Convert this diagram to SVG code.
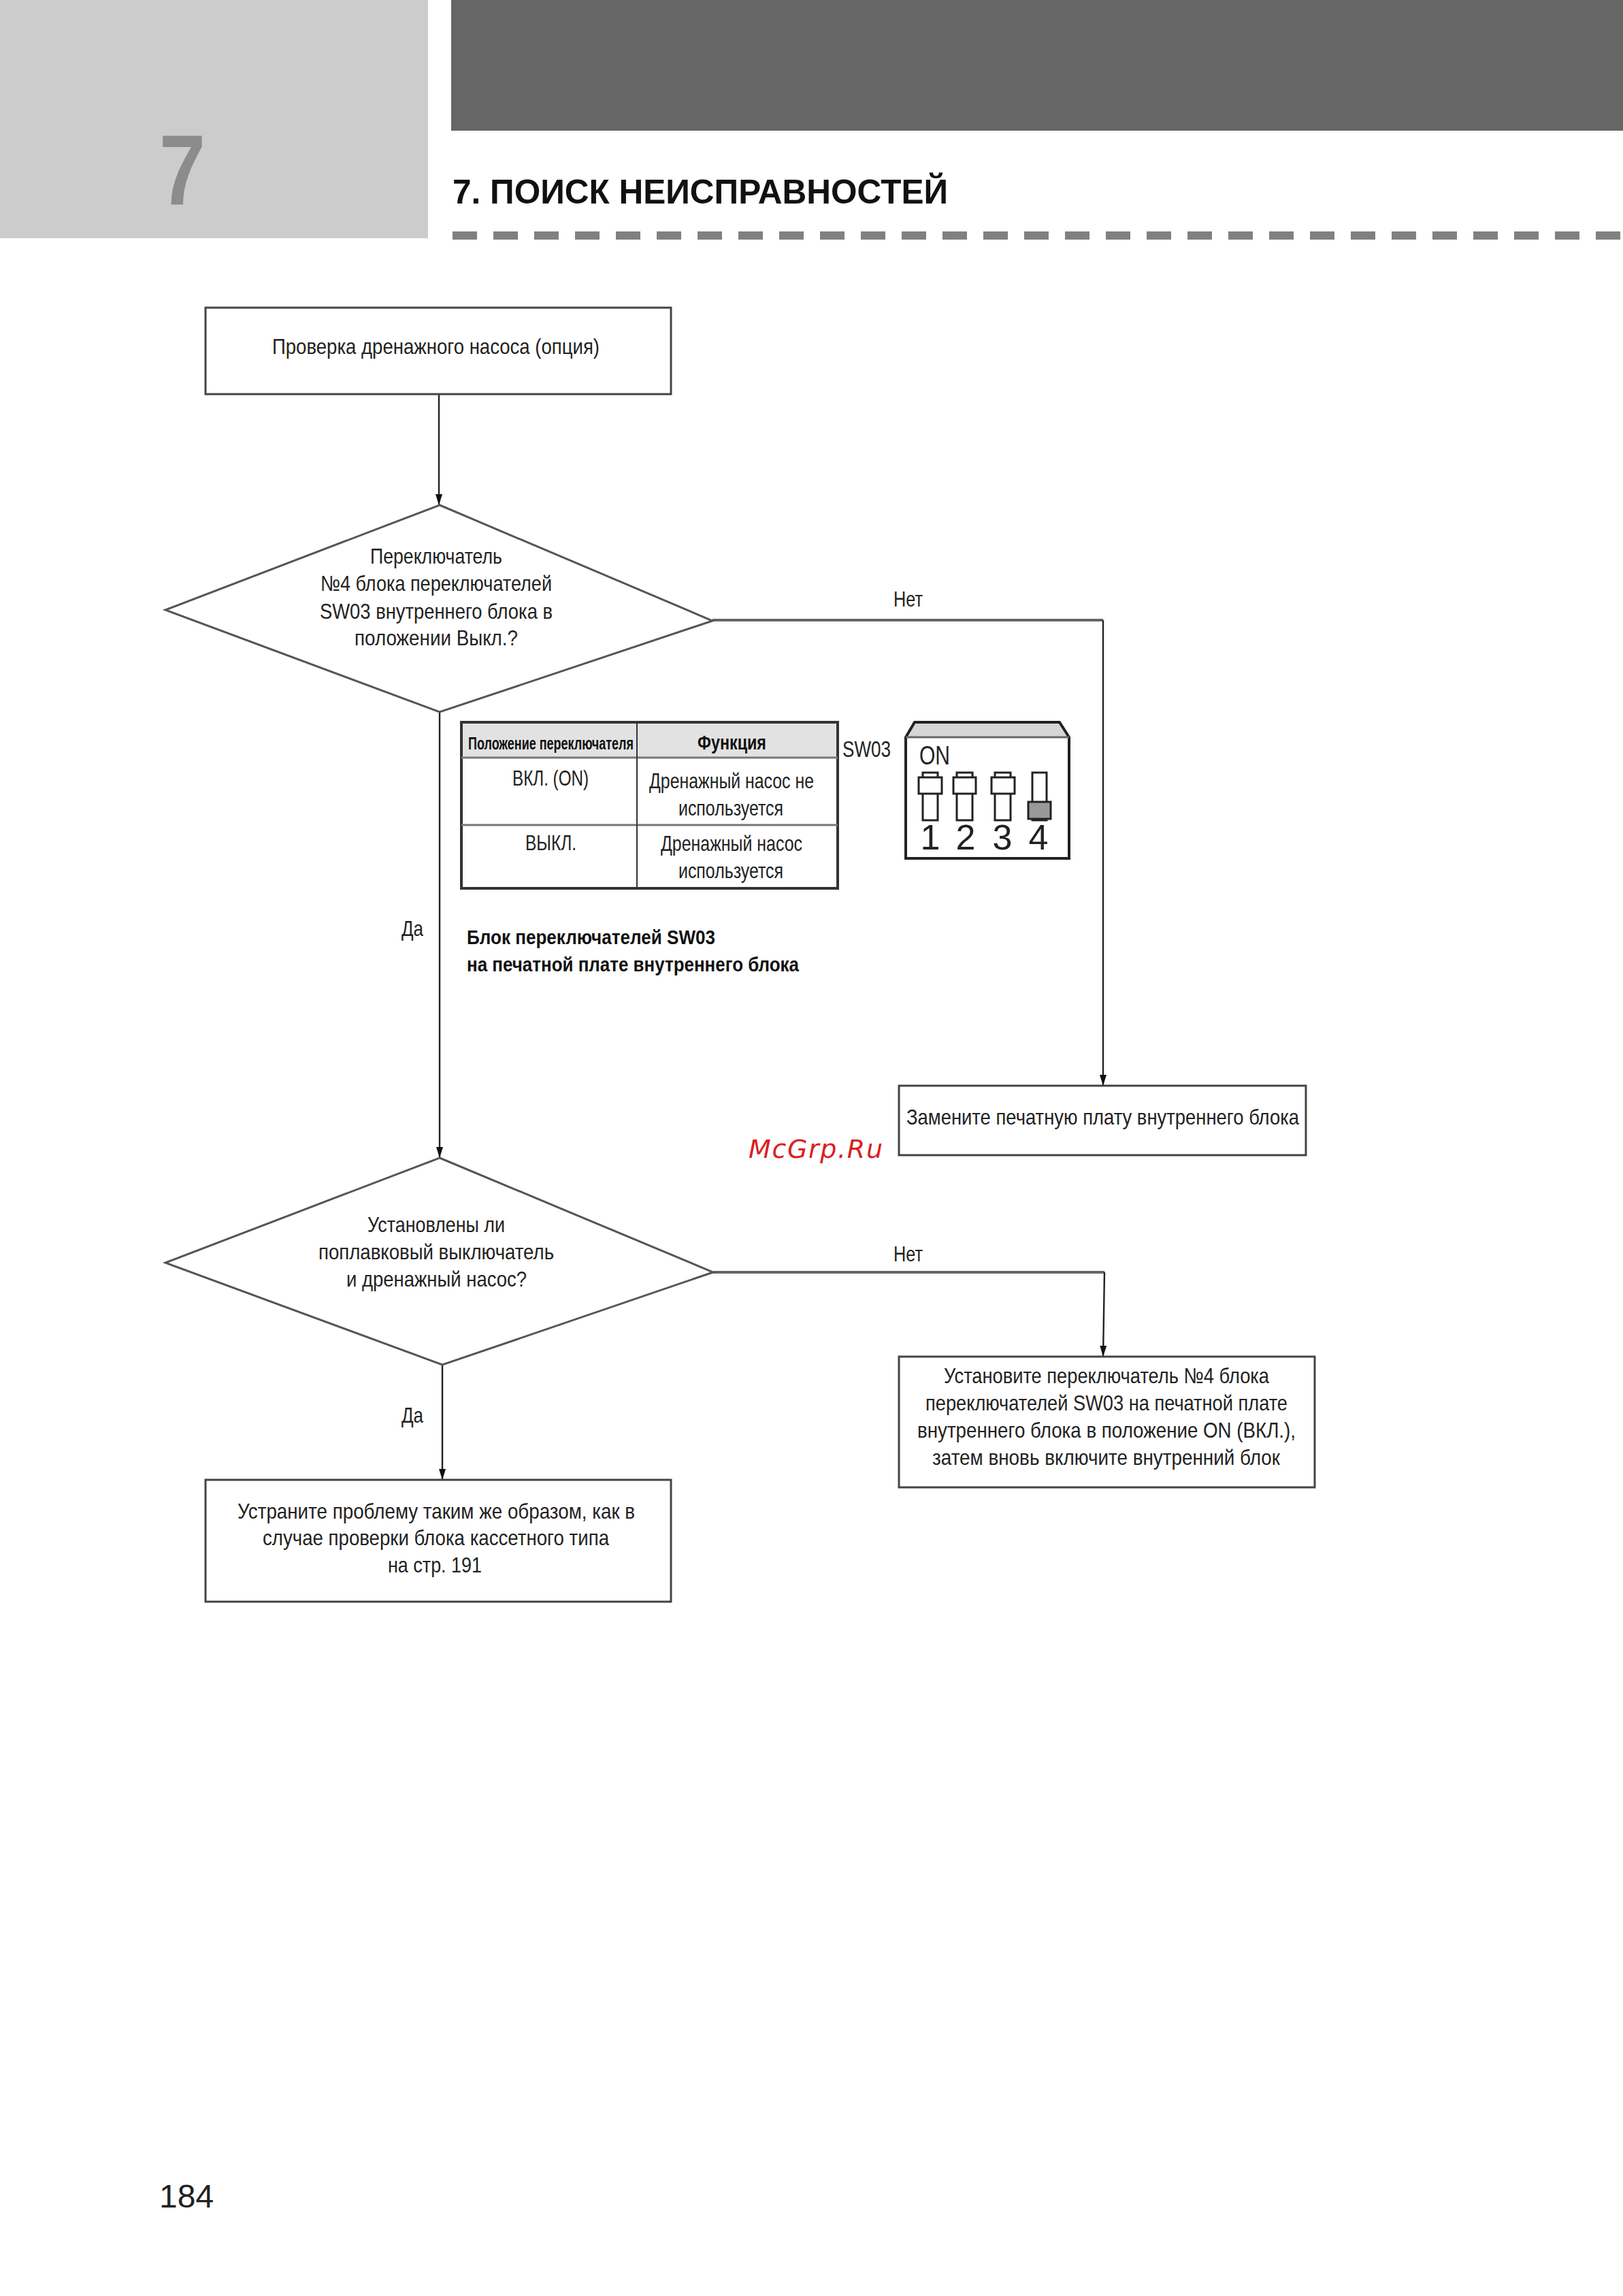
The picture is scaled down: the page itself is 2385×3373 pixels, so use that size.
<svg xmlns="http://www.w3.org/2000/svg" width="2385" height="3373" viewBox="0 0 2385 3373">
<style>
text{font-family:"Liberation Sans",Arial,sans-serif;fill:#222;font-size:32px}
.b{font-weight:bold;fill:#111}
.box{fill:#fff;stroke:#444;stroke-width:3}
.dia{fill:#fff;stroke:#555;stroke-width:3}
.h{fill:none;stroke:#666;stroke-width:4}
.v{fill:none;stroke:#222;stroke-width:2.4}
.sl{fill:#fff;stroke:#222;stroke-width:3}
.num{font-size:52px;fill:#222}
</style>
<defs>
<marker id="arr" viewBox="0 0 16 10" refX="16" refY="5" markerWidth="16" markerHeight="10" markerUnits="userSpaceOnUse" orient="auto"><path d="M0 0L16 5L0 10Z" fill="#111"/></marker>
</defs>
<rect width="2385" height="3373" fill="#fff"/>
<g id="header">
<rect x="0" y="0" width="629" height="350" fill="#ccc"/>
<rect x="663" y="0" width="1722" height="192" fill="#666"/>
<text x="234" y="300" textLength="68" lengthAdjust="spacingAndGlyphs" style="font-size:146px;font-weight:bold;fill:#8c8c8c">7</text>
<text class="b" x="665" y="299" textLength="728" lengthAdjust="spacingAndGlyphs" style="font-size:50px;fill:#111">7. ПОИСК НЕИСПРАВНОСТЕЙ</text>
<line x1="665" y1="346" x2="2381" y2="346" stroke="#808080" stroke-width="12" stroke-dasharray="36 24"/>
</g>
<g id="connectors">
<line class="v" x1="645" y1="579" x2="645" y2="742" marker-end="url(#arr)"/>
<line class="v" x1="646" y1="1046" x2="646" y2="1701" marker-end="url(#arr)"/>
<path class="h" d="M1047 911H1621"/>
<line class="v" x1="1621" y1="911" x2="1621" y2="1595" marker-end="url(#arr)"/>
<path class="h" d="M1048 1869H1623"/>
<line class="v" x1="1623" y1="1869" x2="1621" y2="1993" marker-end="url(#arr)"/>
<line class="v" x1="650" y1="2005" x2="650" y2="2174" marker-end="url(#arr)"/>
<text x="1313" y="891" textLength="43" lengthAdjust="spacingAndGlyphs">Нет</text>
<text x="590" y="1375" textLength="32" lengthAdjust="spacingAndGlyphs">Да</text>
<text x="1313" y="1853" textLength="43" lengthAdjust="spacingAndGlyphs">Нет</text>
<text x="590" y="2090" textLength="32" lengthAdjust="spacingAndGlyphs">Да</text>
</g>
<g id="node-start">
<rect class="box" x="302" y="452" width="684" height="127"/>
<text x="400" y="520" textLength="481" lengthAdjust="spacingAndGlyphs">Проверка дренажного насоса (опция)</text>
</g>
<g id="node-decision-1">
<path class="dia" d="M646 742L1047 912L646 1046L243 896Z"/>
<text x="544" y="828" textLength="194" lengthAdjust="spacingAndGlyphs">Переключатель</text>
<text x="471" y="868" textLength="340" lengthAdjust="spacingAndGlyphs">№4 блока переключателей</text>
<text x="470" y="909" textLength="342" lengthAdjust="spacingAndGlyphs">SW03 внутреннего блока в</text>
<text x="521" y="948" textLength="240" lengthAdjust="spacingAndGlyphs">положении Выкл.?</text>
</g>
<g id="table">
<rect x="678" y="1061" width="553" height="52" fill="#e2e2e2"/>
<rect x="678" y="1061" width="553" height="244" fill="none" stroke="#333" stroke-width="4"/>
<line x1="678" y1="1113" x2="1231" y2="1113" stroke="#777" stroke-width="3"/>
<line x1="678" y1="1212" x2="1231" y2="1212" stroke="#777" stroke-width="3"/>
<line x1="936" y1="1061" x2="936" y2="1305" stroke="#333" stroke-width="2"/>
<text class="b" x="688" y="1101" textLength="243" lengthAdjust="spacingAndGlyphs" style="font-size:26px">Положение переключателя</text>
<text class="b" x="1025" y="1101" textLength="101" lengthAdjust="spacingAndGlyphs" style="font-size:29px">Функция</text>
<text x="753" y="1154" textLength="112" lengthAdjust="spacingAndGlyphs">ВКЛ. (ON)</text>
<text x="954" y="1158" textLength="242" lengthAdjust="spacingAndGlyphs">Дренажный насос не</text>
<text x="997" y="1198" textLength="154" lengthAdjust="spacingAndGlyphs">используется</text>
<text x="772" y="1249" textLength="75" lengthAdjust="spacingAndGlyphs">ВЫКЛ.</text>
<text x="971" y="1250" textLength="208" lengthAdjust="spacingAndGlyphs">Дренажный насос</text>
<text x="997" y="1290" textLength="154" lengthAdjust="spacingAndGlyphs">используется</text>
<text class="b" x="686" y="1387" textLength="365" lengthAdjust="spacingAndGlyphs" style="font-size:30px">Блок переключателей SW03</text>
<text class="b" x="686" y="1427" textLength="488" lengthAdjust="spacingAndGlyphs" style="font-size:30px">на печатной плате внутреннего блока</text>
</g>
<g id="dip-switch">
<text x="1238" y="1112" textLength="71" lengthAdjust="spacingAndGlyphs" style="font-size:33px">SW03</text>
<path d="M1344 1061H1557L1571 1083H1331Z" fill="#d6d6d6"/>
<path d="M1344 1061H1557L1571 1083V1261H1331V1083Z" fill="none" stroke="#222" stroke-width="4"/>
<line x1="1331" y1="1083" x2="1571" y2="1083" stroke="#666" stroke-width="3"/>
<text x="1351" y="1123" textLength="45" lengthAdjust="spacingAndGlyphs" style="font-size:39px">ON</text>
<rect class="sl" x="1356" y="1135" width="22" height="70"/><rect class="sl" x="1350" y="1142" width="34" height="24"/>
<rect class="sl" x="1406" y="1135" width="23" height="70"/><rect class="sl" x="1401" y="1142" width="33" height="24"/>
<rect class="sl" x="1462" y="1135" width="23" height="70"/><rect class="sl" x="1457" y="1142" width="34" height="24"/>
<rect class="sl" x="1517" y="1135" width="21" height="70"/><rect class="sl" x="1511" y="1178" width="33" height="25" style="fill:#999"/>
<text class="num" x="1367" y="1248" text-anchor="middle">1</text>
<text class="num" x="1419" y="1248" text-anchor="middle">2</text>
<text class="num" x="1473" y="1248" text-anchor="middle">3</text>
<text class="num" x="1526" y="1248" text-anchor="middle">4</text>
</g>
<g id="node-replace">
<rect class="box" x="1321" y="1595" width="598" height="102"/>
<text x="1332" y="1652" textLength="577" lengthAdjust="spacingAndGlyphs">Замените печатную плату внутреннего блока</text>
</g>
<g id="node-decision-2">
<path class="dia" d="M646 1701L1048 1869L650 2005L243 1855Z"/>
<text x="540" y="1810" textLength="202" lengthAdjust="spacingAndGlyphs">Установлены ли</text>
<text x="468" y="1850" textLength="346" lengthAdjust="spacingAndGlyphs">поплавковый выключатель</text>
<text x="509" y="1890" textLength="265" lengthAdjust="spacingAndGlyphs">и дренажный насос?</text>
</g>
<g id="node-install">
<rect class="box" x="1321" y="1993" width="611" height="192"/>
<text x="1387" y="2032" textLength="478" lengthAdjust="spacingAndGlyphs">Установите переключатель №4 блока</text>
<text x="1360" y="2072" textLength="532" lengthAdjust="spacingAndGlyphs">переключателей SW03 на печатной плате</text>
<text x="1348" y="2112" textLength="556" lengthAdjust="spacingAndGlyphs">внутреннего блока в положение ON (ВКЛ.),</text>
<text x="1370" y="2152" textLength="511" lengthAdjust="spacingAndGlyphs">затем вновь включите внутренний блок</text>
</g>
<g id="node-fix">
<rect class="box" x="302" y="2174" width="684" height="179"/>
<text x="349" y="2231" textLength="584" lengthAdjust="spacingAndGlyphs">Устраните проблему таким же образом, как в</text>
<text x="386" y="2270" textLength="509" lengthAdjust="spacingAndGlyphs">случае проверки блока кассетного типа</text>
<text x="570" y="2310" textLength="138" lengthAdjust="spacingAndGlyphs">на стр. 191</text>
</g>
<text x="1100" y="1701" textLength="197" lengthAdjust="spacing" style="font-family:'DejaVu Sans',sans-serif;font-style:italic;font-size:38px;fill:#d9201f">McGrp.Ru</text>
<text x="234" y="3243" style="font-size:48px;fill:#222">184</text>
</svg>
